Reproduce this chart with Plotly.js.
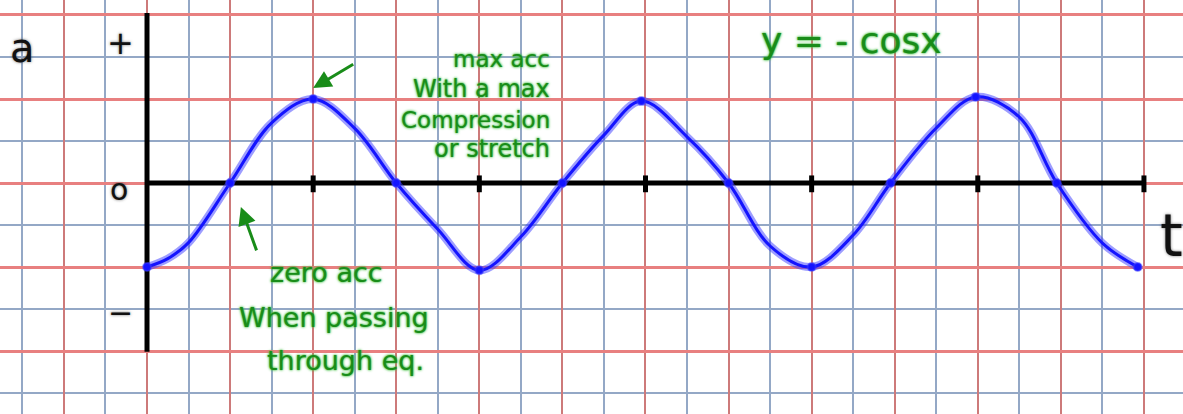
<!DOCTYPE html>
<html>
<head>
<meta charset="utf-8">
<script src="https://cdn.plot.ly/plotly-3.0.1.min.js"></script>
<style>html,body{margin:0;padding:0;background:#fff;}#chart{width:1183px;height:414px;}</style>
</head>
<body>
<div id="chart"></div>
<script>
// ---- data (1 unit = 1 grid square) ----
const curveT = [0, 0.5, 1, 2, 3, 4, 5, 6, 7, 8, 9, 10, 11, 11.9, 13, 14, 15, 16, 17, 17.9, 19, 19.95, 21, 21.9, 23, 23.85];
const curveA = [-2, -1.8, -1.42, 0, 1.43, 2, 1.3, 0, -1.1, -2.08, -1.28, 0, 1.14, 1.95, 1.1, 0, -1.5, -2.0, -1.24, 0, 1.31, 2.05, 1.57, 0, -1.43, -2.0];
const dotT = [0, 2, 4, 6, 8, 10, 11.9, 14, 16, 17.9, 19.95, 21.9, 23.85];
const dotA = [-2, 0, 2, 0, -2.08, 0, 1.95, 0, -2.0, 0, 2.05, 0, -2.0];
const tickT = [4, 8, 12, 16, 20, 24];
const xAxisSpan = [0, 24];
const yAxisSpan = [4.05, -4.02];
const equationLabel = "y = - cosx";
const maxNote = ["max acc", "With a max", "Compression", "or stretch"];
const zeroNote = ["zero acc", "When passing", "through eq."];

// ---- build traces ----
const tickX = [], tickY = [];
tickT.forEach(t => { tickX.push(t, t, null); tickY.push(0.18, -0.22, null); });

const blue = 'rgb(20,20,255)';
const traces = [
  {x: [0, 0], y: yAxisSpan, mode: 'lines', line: {color: '#000', width: 5}, hoverinfo: 'skip'},
  {x: xAxisSpan, y: [0, 0], mode: 'lines', line: {color: '#000', width: 5}, hoverinfo: 'skip'},
  {x: tickX, y: tickY, mode: 'lines', line: {color: '#000', width: 5}, hoverinfo: 'skip'},
  {x: curveT, y: curveA, mode: 'lines', line: {color: 'rgba(60,60,255,0.5)', width: 8, shape: 'spline', smoothing: 1}, hoverinfo: 'skip'},
  {x: curveT, y: curveA, mode: 'lines', line: {color: blue, width: 3, shape: 'spline', smoothing: 1}},
  {x: dotT, y: dotA, mode: 'markers', marker: {color: blue, size: 8, line: {color: 'rgba(60,60,255,0.5)', width: 2}}}
];

const green = 'rgb(25,140,25)';
const gHalo = '0 0 3px rgba(60,190,60,0.9), 0 0 2px rgba(60,190,60,0.9)';
const kHalo = '0 0 3px rgba(80,80,80,0.8)';
const gFont = s => ({family: 'DejaVu Sans, sans-serif', size: s, color: green, shadow: gHalo});
const kFont = s => ({family: 'DejaVu Sans, sans-serif', size: s, color: '#111', shadow: kHalo});

const ann = [];
const txt = (x, y, text, font, xanchor) => ann.push({x, y, xref: 'x', yref: 'y', text, showarrow: false, font, xanchor: xanchor || 'center', yanchor: 'middle'});

txt(-3.0, 3.22, 'a', kFont(40));
txt(-0.65, 3.33, '+', kFont(32));
txt(-0.67, -0.15, 'o', kFont(30));
txt(-0.65, -3.08, '−', kFont(30));
txt(24.67, -1.25, 't', kFont(58));

txt(16.97, 3.4, equationLabel, gFont(36));
txt(9.75, 2.95, maxNote[0], gFont(23), 'right');
txt(9.75, 2.23, maxNote[1], gFont(24), 'right');
txt(9.75, 1.5, maxNote[2], gFont(23), 'right');
txt(9.75, 0.82, maxNote[3], gFont(24), 'right');
txt(4.33, -2.12, zeroNote[0], gFont(27));
txt(4.5, -3.2, zeroNote[1], gFont(27));
txt(4.77, -4.22, zeroNote[2], gFont(27));

ann.push({x: 4.0, y: 2.26, ax: 5.0, ay: 2.85, xref: 'x', yref: 'y', axref: 'x', ayref: 'y', text: '', showarrow: true, arrowhead: 2, arrowsize: 1.2, arrowwidth: 3, arrowcolor: green});
ann.push({x: 2.26, y: -0.57, ax: 2.65, ay: -1.64, xref: 'x', yref: 'y', axref: 'x', ayref: 'y', text: '', showarrow: true, arrowhead: 2, arrowsize: 1.2, arrowwidth: 3, arrowcolor: green});

const layout = {
  width: 1183, height: 414, autosize: false,
  margin: {l: 0, r: 0, t: 0, b: 0, pad: 0},
  paper_bgcolor: '#fff', plot_bgcolor: '#fff',
  showlegend: false,
  xaxis: {range: [-3.539, 24.94], tick0: 0, dtick: 2, showgrid: true, gridcolor: 'rgb(205,122,122)', gridwidth: 2,
          minor: {dtick: 1, showgrid: true, gridcolor: 'rgb(148,168,198)', gridwidth: 2},
          showticklabels: false, ticks: '', zeroline: false, showline: false, fixedrange: true},
  yaxis: {range: [-5.5, 4.357], tick0: 0, dtick: 2, showgrid: true, gridcolor: 'rgb(232,128,128)', gridwidth: 3,
          minor: {dtick: 1, showgrid: true, gridcolor: 'rgb(148,168,198)', gridwidth: 2},
          showticklabels: false, ticks: '', zeroline: false, showline: false, fixedrange: true},
  annotations: ann
};

Plotly.newPlot('chart', traces, layout, {staticPlot: true, displayModeBar: false});
</script>
</body>
</html>
